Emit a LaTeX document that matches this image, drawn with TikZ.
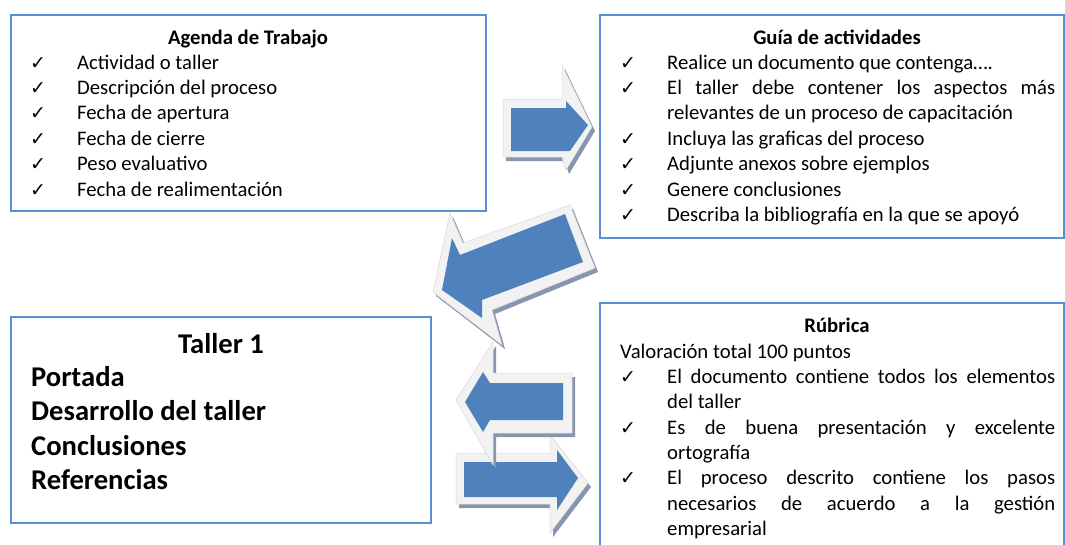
\documentclass[tikz,border=0pt]{standalone}
\usepackage{fontspec}
\setmainfont{Carlito}
\newfontfamily\symfont{DejaVu Sans}

\definecolor{boxblue}{RGB}{91,143,213}
\definecolor{arrowblue}{RGB}{79,129,189}
\definecolor{rimgray}{RGB}{242,242,242}
\definecolor{shadeblue}{RGB}{135,150,175}

\tikzset{
    box/.style = {draw = boxblue, line width = 1.6pt, inner sep = 0pt, anchor = north west},
    txt/.style = {inner sep = 0pt, anchor = base west, font = \fontsize{20.7}{25}\selectfont},
    ttl/.style = {inner sep = 0pt, anchor = base, font = \fontsize{20.7}{25}\selectfont\bfseries},
    chk/.style = {inner sep = 0pt, anchor = base, font = \symfont\fontsize{19}{19}\selectfont},
    big/.style = {inner sep = 0pt, anchor = base west, font = \fontsize{28.6}{34}\selectfont\bfseries},
    rim/.style = {fill = rimgray, draw = black!15, line width = .5pt},
    shade/.style = {fill = shadeblue},
    arr/.style = {fill = arrowblue}
}

\begin{document}
\begin{tikzpicture}[x = 1pt, y = -1pt]
        \clip (0, 0) rectangle (1065, 544);
        \fill[white] (0, 0) rectangle (1065, 544);

        \node[box, minimum width = 475pt, minimum height = 196pt] (agenda) at (10, 14) {};
        \node[box, minimum width = 464pt, minimum height = 223pt] (guia) at (599, 14) {};
        \node[box, minimum width = 464pt, minimum height = 260pt] (rubrica) at (599, 302) {};
        \node[box, minimum width = 420pt, minimum height = 206pt] (taller) at (10, 316) {};

        \node[ttl] (agendaT) at (248, 44) {Agenda de Trabajo};
        \node[chk] (a1c) at (38, 69) {✓};
        \node[txt] (a1) at (77, 69) {Actividad o taller};
        \node[chk] (a2c) at (38, 94) {✓};
        \node[txt] (a2) at (77, 94) {Descripción del proceso};
        \node[chk] (a3c) at (38, 119) {✓};
        \node[txt] (a3) at (77, 119) {Fecha de apertura};
        \node[chk] (a4c) at (38, 145) {✓};
        \node[txt] (a4) at (77, 145) {Fecha de cierre};
        \node[chk] (a5c) at (38, 170) {✓};
        \node[txt] (a5) at (77, 170) {Peso evaluativo};
        \node[chk] (a6c) at (38, 196) {✓};
        \node[txt] (a6) at (77, 196) {Fecha de realimentación};

        \node[ttl] (guiaT) at (837, 44) {Guía de actividades};
        \node[chk] (g1c) at (628, 69) {✓};
        \node[txt] (g1) at (667, 69) {Realice un documento que contenga….};
        \node[chk] (g2c) at (628, 94) {✓};
        \node[txt] (g2) at (667, 94) {\makebox[388pt][s]{El taller debe contener los aspectos más}};
        \node[txt] (g2b) at (667, 119) {relevantes de un proceso de capacitación};
        \node[chk] (g3c) at (628, 145) {✓};
        \node[txt] (g3) at (667, 145) {Incluya las graficas del proceso};
        \node[chk] (g4c) at (628, 170) {✓};
        \node[txt] (g4) at (667, 170) {Adjunte anexos sobre ejemplos};
        \node[chk] (g5c) at (628, 196) {✓};
        \node[txt] (g5) at (667, 196) {Genere conclusiones};
        \node[chk] (g6c) at (628, 221) {✓};
        \node[txt] (g6) at (667, 221) {Describa la bibliografía en la que se apoyó};

        \node[ttl] (rubricaT) at (837, 332) {Rúbrica};
        \node[txt] (r0) at (620, 358) {Valoración total 100 puntos};
        \node[chk] (r1c) at (628, 383) {✓};
        \node[txt] (r1) at (667, 383) {\makebox[388pt][s]{El documento contiene todos los elementos}};
        \node[txt] (r1b) at (667, 408) {del taller};
        \node[chk] (r2c) at (628, 434) {✓};
        \node[txt] (r2) at (667, 434) {\makebox[388pt][s]{Es de buena presentación y excelente}};
        \node[txt] (r2b) at (667, 459) {ortografía};
        \node[chk] (r3c) at (628, 484) {✓};
        \node[txt] (r3) at (667, 484) {\makebox[388pt][s]{El proceso descrito contiene los pasos}};
        \node[txt] (r3b) at (667, 510) {\makebox[388pt][s]{necesarios de acuerdo a la gestión}};
        \node[txt] (r3c) at (667, 535) {empresarial};

        \node[big, anchor = base] (tallerT) at (221, 353) {Taller 1};
        \node[big] (t1) at (31, 386) {Portada};
        \node[big] (t2) at (31, 420) {Desarrollo del taller};
        \node[big] (t3) at (31, 455) {Conclusiones};
        \node[big] (t4) at (31, 489) {Referencias};

        \fill[shade, shift = {(3, 4)}] (503, 99) -- (562, 99) -- (562, 65) -- (592, 127) -- (566, 170) -- (562, 157) -- (503, 157) -- cycle;
        \filldraw[rim] (503, 99) -- (562, 99) -- (562, 65) -- (592, 127) -- (566, 170) -- (562, 157) -- (503, 157) -- cycle;
        \fill[arr] (511, 108) -- (566, 108) -- (566, 101) -- (588, 125) -- (570, 151) -- (511, 151) -- cycle;

        \fill[shade, shift = {(3, 4)}] (570, 205) -- (595, 268) -- (492, 310) -- (502, 345) -- (433, 292) -- (450, 213) -- (463, 243) -- cycle;
        \filldraw[rim] (570, 205) -- (595, 268) -- (492, 310) -- (502, 345) -- (433, 292) -- (450, 213) -- (463, 243) -- cycle;
        \fill[arr] (565, 214) -- (583, 262) -- (482, 300) -- (482, 318) -- (442, 290) -- (452, 238) -- (460, 255) -- cycle;

        \fill[shade, shift = {(3, 4)}] (456, 453) -- (550, 453) -- (550, 435) -- (588, 483) -- (550, 533) -- (550, 504) -- (456, 504) -- cycle;
        \filldraw[rim] (456, 453) -- (550, 453) -- (550, 435) -- (588, 483) -- (550, 533) -- (550, 504) -- (456, 504) -- cycle;
        \fill[arr] (464, 462) -- (557, 462) -- (557, 450) -- (578, 478) -- (557, 510) -- (557, 497) -- (464, 497) -- cycle;

        \fill[shade, shift = {(3, 4)}] (456, 400) -- (493, 342) -- (493, 373) -- (572, 373) -- (572, 433) -- (493, 433) -- (493, 465) -- cycle;
        \filldraw[rim] (456, 400) -- (493, 342) -- (493, 373) -- (572, 373) -- (572, 433) -- (493, 433) -- (493, 465) -- cycle;
        \fill[arr] (465, 402) -- (483, 372) -- (490, 383) -- (563, 383) -- (563, 420) -- (490, 420) -- (483, 432) -- cycle;
\end{tikzpicture}
\end{document}
